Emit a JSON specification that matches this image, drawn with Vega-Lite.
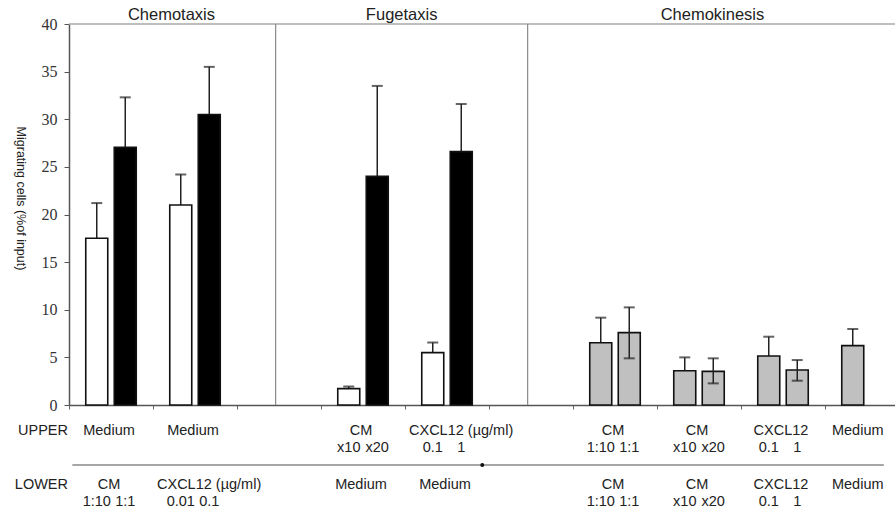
{
  "$schema": "https://vega.github.io/schema/vega-lite/v6.json",
  "width": 826,
  "height": 381,
  "autosize": {"type": "none"},
  "padding": {"left": 69, "top": 24, "right": 0, "bottom": 107},
  "background": "white",
  "config": {"view": {"stroke": null}, "font": "Liberation Sans", "text": {"font": "Liberation Sans", "fontSize": 14.5, "color": "#222"}},
  "datasets": {
    "bars": [
      {"cat": "c1", "s": "A", "kind": "open", "v": 17.5, "lo": 13.8, "hi": 21.2, "lo2": "1:10", "up2": ""},
      {"cat": "c1", "s": "B", "kind": "filled", "v": 27.05, "lo": 21.8, "hi": 32.3, "lo2": "1:1", "up2": ""},
      {"cat": "c2", "s": "A", "kind": "open", "v": 21.0, "lo": 17.8, "hi": 24.2, "lo2": "0.01", "up2": ""},
      {"cat": "c2", "s": "B", "kind": "filled", "v": 30.5, "lo": 25.5, "hi": 35.5, "lo2": "0.1", "up2": ""},
      {"cat": "c4", "s": "A", "kind": "open", "v": 1.72, "lo": 1.5, "hi": 1.94, "lo2": "", "up2": "x10"},
      {"cat": "c4", "s": "B", "kind": "filled", "v": 24.0, "lo": 14.5, "hi": 33.5, "lo2": "", "up2": "x20"},
      {"cat": "c5", "s": "A", "kind": "open", "v": 5.5, "lo": 4.45, "hi": 6.56, "lo2": "", "up2": "0.1"},
      {"cat": "c5", "s": "B", "kind": "filled", "v": 26.6, "lo": 21.6, "hi": 31.6, "lo2": "", "up2": "1"},
      {"cat": "c7", "s": "A", "kind": "kinesis", "v": 6.54, "lo": 3.9, "hi": 9.17, "lo2": "1:10", "up2": "1:10"},
      {"cat": "c7", "s": "B", "kind": "kinesis", "v": 7.6, "lo": 4.9, "hi": 10.25, "lo2": "1:1", "up2": "1:1"},
      {"cat": "c8", "s": "A", "kind": "kinesis", "v": 3.6, "lo": 2.2, "hi": 5.0, "lo2": "x10", "up2": "x10"},
      {"cat": "c8", "s": "B", "kind": "kinesis", "v": 3.53, "lo": 2.27, "hi": 4.9, "lo2": "x20", "up2": "x20"},
      {"cat": "c9", "s": "A", "kind": "kinesis", "v": 5.14, "lo": 3.1, "hi": 7.17, "lo2": "0.1", "up2": "0.1"},
      {"cat": "c9", "s": "B", "kind": "kinesis", "v": 3.67, "lo": 2.55, "hi": 4.72, "lo2": "1", "up2": "1"},
      {"cat": "c10", "s": "A", "kind": "kinesis", "v": 6.23, "lo": 4.5, "hi": 7.98, "lo2": "", "up2": "", "head": "Medium"}
    ],
    "dividers": [{"cat": "c3"}, {"cat": "c6"}],
    "one": [{"n": 1}],
    "heads": [
      {"cat": "c1", "up": "Medium", "low": "CM"},
      {"cat": "c2", "up": "Medium", "low": ""},
      {"cat": "c4", "up": "CM", "low": "Medium"},
      {"cat": "c5", "up": "", "low": "Medium"},
      {"cat": "c7", "up": "CM", "low": "CM"},
      {"cat": "c8", "up": "CM", "low": "CM"},
      {"cat": "c9", "up": "CXCL12", "low": "CXCL12"}
    ],
    "wide": [
      {"cat": "c2", "row": "LOWER", "label": "CXCL12 (µg/ml)"},
      {"cat": "c5", "row": "UPPER", "label": "CXCL12 (µg/ml)"}
    ]
  },
  "layer": [
    {
      "data": {"name": "one"},
      "mark": {"type": "rule", "color": "#a8a8a8", "strokeWidth": 1.5},
      "encoding": {"y": {"datum": 40, "type": "quantitative"}}
    },
    {
      "data": {"name": "dividers"},
      "mark": {"type": "rule", "color": "#8a8a8a", "strokeWidth": 1.2},
      "encoding": {
        "x": {"field": "cat", "type": "nominal", "bandPosition": 0.46,
          "scale": {"domain": ["c1", "c2", "c3", "c4", "c5", "c6", "c7", "c8", "c9", "c10"], "range": [0, 840], "paddingInner": 0, "paddingOuter": 0},
          "axis": {"title": null, "labels": false, "bandPosition": 0, "ticks": true, "tickSize": 4, "tickColor": "#666", "domainColor": "#555", "domainWidth": 1.5, "grid": false}}
      }
    },
    {
      "data": {"name": "bars"},
      "transform": [{"filter": "datum.kind !== 'kinesis' || datum.s === 'A'"}],
      "mark": {"type": "rule", "color": "#222", "strokeWidth": 1.5},
      "encoding": {
        "x": {"field": "cat", "type": "nominal"},
        "xOffset": {"field": "s", "type": "nominal", "scale": {"domain": ["A", "B"], "paddingInner": 0.228, "paddingOuter": 0.588}},
        "y": {"field": "lo", "type": "quantitative", "title": "Migrating cells (%of input)"},
        "y2": {"field": "hi"}
      }
    },
    {
      "data": {"name": "bars"},
      "transform": [{"filter": "datum.kind !== 'kinesis' || datum.s === 'A'"}],
      "mark": {"type": "tick", "color": "#222", "size": 11, "thickness": 2},
      "encoding": {
        "x": {"field": "cat", "type": "nominal"},
        "xOffset": {"field": "s", "type": "nominal"},
        "y": {"field": "hi", "type": "quantitative", "title": "Migrating cells (%of input)"}
      }
    },
    {
      "data": {"name": "bars"},
      "mark": {"type": "bar", "stroke": "#111", "strokeWidth": 1.6},
      "encoding": {
        "x": {"field": "cat", "type": "nominal"},
        "xOffset": {"field": "s", "type": "nominal"},
        "y": {"field": "v", "type": "quantitative", "title": "Migrating cells (%of input)",
          "scale": {"domain": [0, 40], "nice": false},
          "axis": {"values": [0, 5, 10, 15, 20, 25, 30, 35, 40], "grid": false, "labelFont": "Liberation Serif", "labelFontSize": 16, "labelColor": "#333", "labelPadding": 7, "tickSize": 5, "tickColor": "#555", "domainColor": "#555", "domainWidth": 1.5, "titleFont": "Liberation Sans", "titleFontSize": 12.5, "titleFontWeight": "normal", "titleColor": "#222", "titleX": -49, "titleY": 174, "titleAngle": 90, "titleBaseline": "middle"}},
        "fill": {"field": "kind", "type": "nominal", "scale": {"domain": ["open", "filled", "kinesis"], "range": ["#ffffff", "#000000", "#c0c0c0"]}, "legend": null}
      }
    },
    {
      "data": {"name": "bars"},
      "transform": [{"filter": "datum.s === 'B' && datum.kind === 'kinesis'"}],
      "mark": {"type": "rule", "color": "#222", "strokeWidth": 1.5},
      "encoding": {
        "x": {"field": "cat", "type": "nominal"},
        "xOffset": {"field": "s", "type": "nominal"},
        "y": {"field": "lo", "type": "quantitative", "title": "Migrating cells (%of input)"},
        "y2": {"field": "hi"}
      }
    },
    {
      "data": {"name": "bars"},
      "transform": [{"filter": "datum.s === 'B' && datum.kind === 'kinesis'"}],
      "mark": {"type": "tick", "color": "#222", "size": 11, "thickness": 2},
      "encoding": {
        "x": {"field": "cat", "type": "nominal"},
        "xOffset": {"field": "s", "type": "nominal"},
        "y": {"field": "hi", "type": "quantitative", "title": "Migrating cells (%of input)"}
      }
    },
    {
      "data": {"name": "bars"},
      "transform": [{"filter": "datum.s === 'B' && datum.kind === 'kinesis'"}],
      "mark": {"type": "tick", "color": "#222", "size": 11, "thickness": 2},
      "encoding": {
        "x": {"field": "cat", "type": "nominal"},
        "xOffset": {"field": "s", "type": "nominal"},
        "y": {"field": "lo", "type": "quantitative", "title": "Migrating cells (%of input)"}
      }
    },
    {
      "data": {"name": "one"},
      "mark": {"type": "text", "text": "Chemotaxis", "fontSize": 16.5},
      "encoding": {"x": {"datum": "c2", "type": "nominal", "bandPosition": 0.22}, "y": {"datum": 40.94, "type": "quantitative"}}
    },
    {
      "data": {"name": "one"},
      "mark": {"type": "text", "text": "Fugetaxis", "fontSize": 16.5},
      "encoding": {"x": {"datum": "c4", "type": "nominal", "bandPosition": 0.96}, "y": {"datum": 40.94, "type": "quantitative"}}
    },
    {
      "data": {"name": "one"},
      "mark": {"type": "text", "text": "Chemokinesis", "fontSize": 16.5},
      "encoding": {"x": {"datum": "c8", "type": "nominal", "bandPosition": 0.66}, "y": {"datum": 40.94, "type": "quantitative"}}
    },
    {
      "data": {"name": "one"},
      "mark": {"type": "text", "text": "UPPER", "align": "right", "dx": -1},
      "encoding": {"x": {"datum": "c1", "type": "nominal", "bandPosition": 0}, "y": {"datum": -2.78, "type": "quantitative"}}
    },
    {
      "data": {"name": "one"},
      "mark": {"type": "text", "text": "LOWER", "align": "right", "dx": -1},
      "encoding": {"x": {"datum": "c1", "type": "nominal", "bandPosition": 0}, "y": {"datum": -8.4, "type": "quantitative"}}
    },
    {
      "data": {"name": "heads"},
      "transform": [{"filter": "datum.up !== ''"}],
      "mark": {"type": "text", "dx": -2},
      "encoding": {"x": {"field": "cat", "type": "nominal"}, "y": {"datum": -2.78, "type": "quantitative"}, "text": {"field": "up"}}
    },
    {
      "data": {"name": "heads"},
      "transform": [{"filter": "datum.low !== ''"}],
      "mark": {"type": "text", "dx": -2},
      "encoding": {"x": {"field": "cat", "type": "nominal"}, "y": {"datum": -8.4, "type": "quantitative"}, "text": {"field": "low"}}
    },
    {
      "data": {"name": "wide"},
      "transform": [{"filter": "datum.row === 'UPPER'"}],
      "mark": {"type": "text", "align": "left", "dx": 4},
      "encoding": {"x": {"field": "cat", "type": "nominal", "bandPosition": 0}, "y": {"datum": -2.78, "type": "quantitative"}, "text": {"field": "label"}}
    },
    {
      "data": {"name": "wide"},
      "transform": [{"filter": "datum.row === 'LOWER'"}],
      "mark": {"type": "text", "align": "left", "dx": 4},
      "encoding": {"x": {"field": "cat", "type": "nominal", "bandPosition": 0}, "y": {"datum": -8.4, "type": "quantitative"}, "text": {"field": "label"}}
    },
    {
      "data": {"name": "bars"},
      "transform": [{"filter": "datum.up2 !== ''"}],
      "mark": {"type": "text"},
      "encoding": {"x": {"field": "cat", "type": "nominal"}, "xOffset": {"field": "s", "type": "nominal"}, "y": {"datum": -4.51, "type": "quantitative"}, "text": {"field": "up2"}}
    },
    {
      "data": {"name": "bars"},
      "transform": [{"filter": "datum.lo2 !== ''"}],
      "mark": {"type": "text"},
      "encoding": {"x": {"field": "cat", "type": "nominal"}, "xOffset": {"field": "s", "type": "nominal"}, "y": {"datum": -10.18, "type": "quantitative"}, "text": {"field": "lo2"}}
    },
    {
      "data": {"name": "bars"},
      "transform": [{"filter": "datum.head"}],
      "mark": {"type": "text", "dx": 5},
      "encoding": {"x": {"field": "cat", "type": "nominal"}, "xOffset": {"field": "s", "type": "nominal"}, "y": {"datum": -2.78, "type": "quantitative"}, "text": {"field": "head"}}
    },
    {
      "data": {"name": "bars"},
      "transform": [{"filter": "datum.head"}],
      "mark": {"type": "text", "dx": 5},
      "encoding": {"x": {"field": "cat", "type": "nominal"}, "xOffset": {"field": "s", "type": "nominal"}, "y": {"datum": -8.4, "type": "quantitative"}, "text": {"field": "head"}}
    },
    {
      "data": {"name": "one"},
      "mark": {"type": "rule", "color": "#888", "strokeWidth": 1.5},
      "encoding": {
        "x": {"datum": "c1", "type": "nominal", "bandPosition": 0.04},
        "x2": {"datum": "c10", "bandPosition": 0.7},
        "y": {"datum": -6.3, "type": "quantitative"}
      }
    },
    {
      "data": {"name": "one"},
      "mark": {"type": "point", "filled": true, "color": "#111", "size": 16, "opacity": 1},
      "encoding": {"x": {"datum": "c5", "type": "nominal", "bandPosition": 0.92}, "y": {"datum": -6.3, "type": "quantitative"}}
    }
  ]
}
